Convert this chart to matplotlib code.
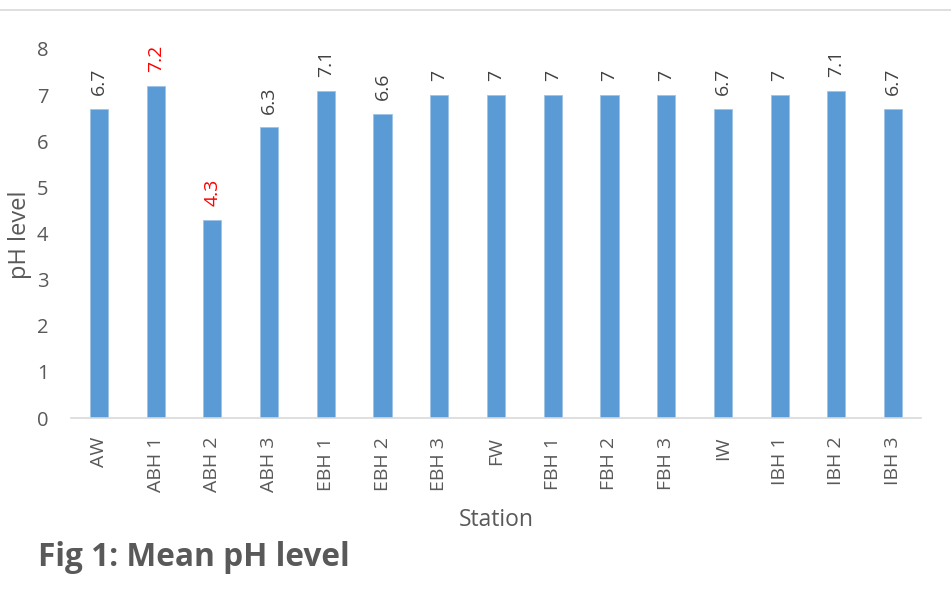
import matplotlib
matplotlib.use("Agg")
import matplotlib.pyplot as plt
from matplotlib.lines import Line2D

plt.rcParams['font.family'] = ['Open Sans', 'DejaVu Sans']

stations = ["AW", "ABH 1", "ABH 2", "ABH 3", "EBH 1", "EBH 2", "EBH 3", "FW",
            "FBH 1", "FBH 2", "FBH 3", "IW", "IBH 1", "IBH 2", "IBH 3"]
ph_values = [6.7, 7.2, 4.3, 6.3, 7.1, 6.6, 7, 7, 7, 7, 7, 6.7, 7, 7.1, 6.7]
value_labels = ["6.7", "7.2", "4.3", "6.3", "7.1", "6.6", "7", "7", "7", "7", "7",
                "6.7", "7", "7.1", "6.7"]
highlighted = {"ABH 1", "ABH 2"}

text_color = "#595959"
bar_color = "#5B9BD5"

fig = plt.figure(figsize=(9.51, 6.02), dpi=100)
ax = fig.add_axes([70.6 / 951, 1 - 418 / 602, (921.4 - 70.6) / 951, (418 - 49) / 602])

x = list(range(len(stations)))
bars = ax.bar(x, ph_values, width=0.32, color=bar_color, edgecolor="#9DC3E6", linewidth=0.6)

for xi, v, lab, st in zip(x, ph_values, value_labels, stations):
    color = "#FF0000" if st in highlighted else "#404040"
    ax.annotate(lab, (xi, v), xytext=(0, 10), textcoords="offset points",
                rotation=90, ha="center", va="bottom", fontsize=14, color=color)

ax.set_xlim(-0.5, len(stations) - 0.5)
ax.set_ylim(0, 8)
ax.set_yticks(range(0, 9))
ax.set_xticks(x)
ax.set_xticklabels(stations, rotation=90, fontsize=14, color=text_color)
ax.tick_params(axis="y", labelsize=14.5, labelcolor=text_color, length=0, pad=16)
ax.tick_params(axis="x", length=0, pad=13.5)

for side in ("top", "right", "left"):
    ax.spines[side].set_visible(False)
ax.spines["bottom"].set_color("#D9D9D9")
ax.spines["bottom"].set_linewidth(1.2)

ax.set_ylabel("pH level", fontsize=17, color=text_color, va="center")
ax.yaxis.set_label_coords(-50.5 / 850.8, 0.496)
ax.set_xlabel("Station", fontsize=16.5, color=text_color, va="center")
ax.xaxis.set_label_coords(0.5, -(520 - 418) / 369)

fig.add_artist(Line2D([0, 1], [1 - 10 / 602, 1 - 10 / 602], transform=fig.transFigure,
                      color="#D9D9D9", linewidth=1.2))
fig.text(38 / 951, 1 - 557 / 602, "Fig 1: Mean pH level", fontsize=22.8, fontweight="bold",
         color=text_color, ha="left", va="center")

fig.savefig("out.png", dpi=100)
